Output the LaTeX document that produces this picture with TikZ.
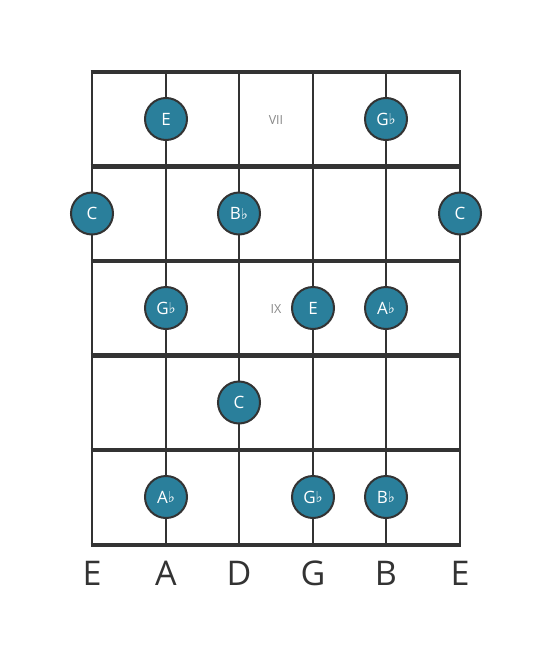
\documentclass[tikz,border=0pt]{standalone}
\usepackage{fontspec}
\setmainfont{Open Sans}
\newfontfamily\symfont{DejaVu Sans}
\definecolor{dotfill}{HTML}{2A7F9B}
\definecolor{linegray}{HTML}{333333}
\definecolor{fretnum}{HTML}{888888}
\newcommand{\flatsym}{{\symfont\fontsize{15}{15}\selectfont\raisebox{0.3pt}{♭}}}
\begin{document}
\begin{tikzpicture}[x=1pt,y=-1pt,
  stringline/.style={draw=linegray,line width=2.6pt},
  fretline/.style={draw=linegray,line width=4.5pt},
  notedot/.style={circle,draw=linegray,line width=2pt,fill=dotfill,minimum size=42pt,inner sep=0pt,text=white,font=\fontsize{17}{17}\selectfont},
  fretlabel/.style={text=fretnum,font=\fontsize{12.5}{12.5}\selectfont},
  stringname/.style={text=linegray,font=\fontsize{34}{34}\selectfont}]
\useasboundingbox (0,0) rectangle (553,656);
% strings
\foreach \x/\n in {92/s1,166/s2,239/s3,313/s4,386/s5,460/s6}{
  \coordinate (\n t) at (\x,72);
  \coordinate (\n b) at (\x,545);
  \draw[stringline] (\n t) -- (\n b);
}
% frets
\foreach \y/\n in {72/f0,166.5/f1,261/f2,355.5/f3,450/f4,545/f5}{
  \coordinate (\n l) at (90.7,\y);
  \coordinate (\n r) at (461.3,\y);
  \draw[fretline] (\n l) -- (\n r);
}
% fret numbers
\node[fretlabel] (vii) at (276,120) {VII};
\node[fretlabel] (ix) at (276,309) {IX};
% notes
\node[notedot] (n1) at (166,119) {E};
\node[notedot] (n2) at (386,119) {G\flatsym};
\node[notedot] (n3) at (92,213.5) {C};
\node[notedot] (n4) at (239,213.5) {B\flatsym};
\node[notedot] (n5) at (460,213.5) {C};
\node[notedot] (n6) at (166,308) {G\flatsym};
\node[notedot] (n7) at (313,308) {E};
\node[notedot] (n8) at (386,308) {A\flatsym};
\node[notedot] (n9) at (239,402.5) {C};
\node[notedot] (n10) at (166,497) {A\flatsym};
\node[notedot] (n11) at (313,497) {G\flatsym};
\node[notedot] (n12) at (386,497) {B\flatsym};
% string names
\foreach \x/\t/\n in {92/E/l1,166/A/l2,239/D/l3,313/G/l4,386/B/l5,460/E/l6}{
  \node[stringname] (\n) at (\x,573) {\t};
}
\end{tikzpicture}
\end{document}
